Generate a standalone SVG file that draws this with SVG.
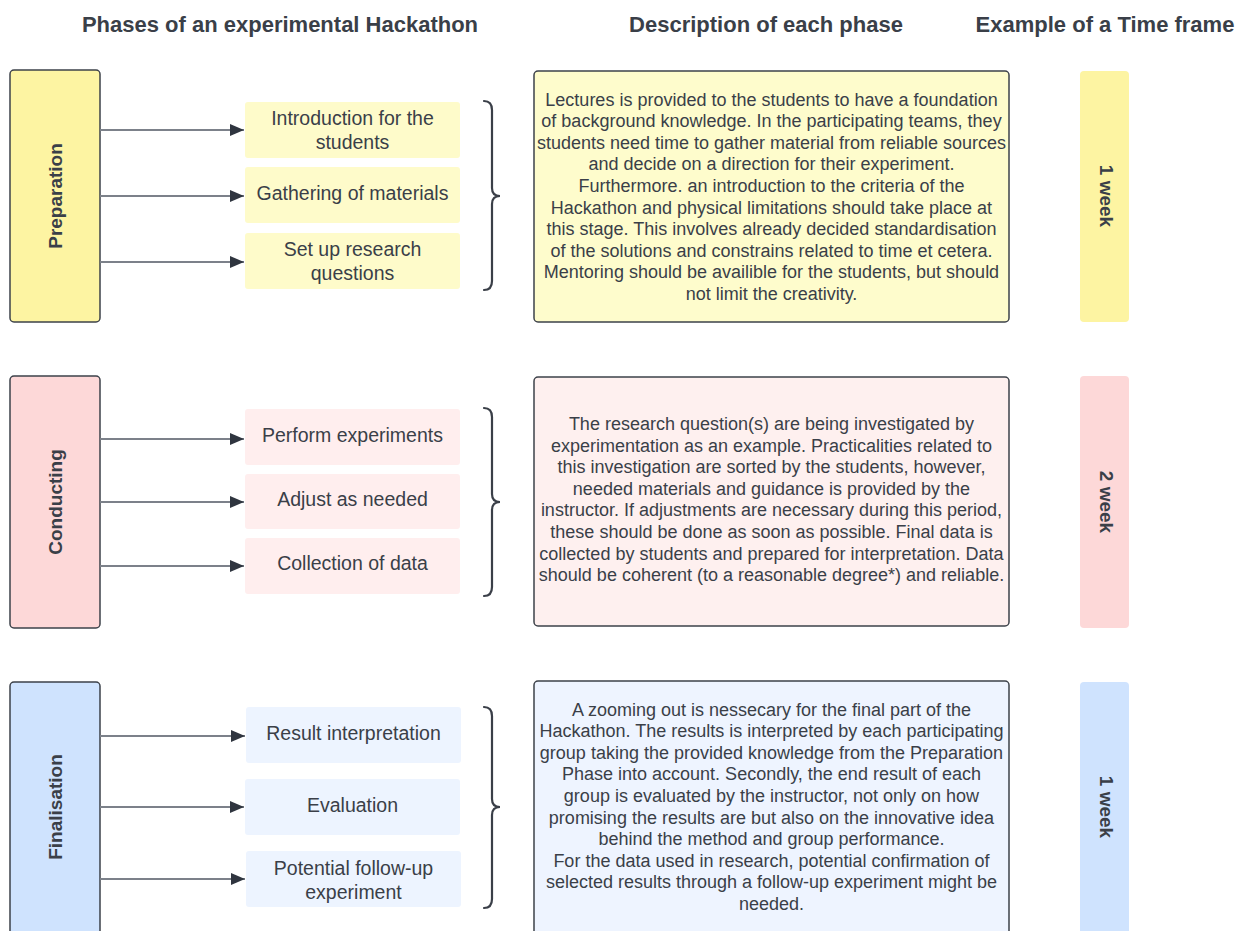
<svg xmlns="http://www.w3.org/2000/svg" width="1235" height="931" viewBox="0 0 1235 931">
<defs>
<style>
text{font-family:"Liberation Sans",Arial,sans-serif;fill:#3a3f48}
.hdr{font-size:22px;font-weight:bold}
.ph{font-size:19px;font-weight:bold}
.tf{font-size:19px;font-weight:bold}
.sub{font-size:19.5px}
.desc{font-size:18px}
.frame{stroke:#3d424a;stroke-width:1.5}
.conn{stroke:#7c818a;stroke-width:2;fill:none}
.brace{stroke:#3a3f48;stroke-width:2.2;fill:none;stroke-linecap:round}
.y1{fill:#fdf4a2}.y2{fill:#fefbca}.y3{fill:#fefccc}
.p1{fill:#fdd8d8}.p2{fill:#ffeeee}.p3{fill:#fef0ef}
.b1{fill:#cfe3fe}.b2{fill:#edf4ff}.b3{fill:#eef4ff}
</style>
<marker id="ah" viewBox="0 0 14 12" refX="14" refY="6" markerWidth="14" markerHeight="12" markerUnits="userSpaceOnUse" orient="auto">
<path d="M0,0 L14,6 L0,12 Z" fill="#2f353f"/>
</marker>
</defs>
<rect width="1235" height="931" fill="#ffffff"/>

<g id="headers" text-anchor="middle">
<text class="hdr" x="280" y="32">Phases of an experimental Hackathon</text>
<text class="hdr" x="766" y="32">Description of each phase</text>
<text class="hdr" x="1105" y="32">Example of a Time frame</text>
</g>

<!-- Preparation -->
<g id="preparation">
<rect class="frame y1" x="10" y="70" width="90" height="252" rx="4"/>
<text class="ph" transform="translate(55,196) rotate(-90)" text-anchor="middle" dominant-baseline="central">Preparation</text>
</g>
<g id="prep-intro"><rect class="y2" x="245" y="102" width="215" height="56" rx="3"/>
<text class="sub" x="352.5" y="125" text-anchor="middle">Introduction for the</text>
<text class="sub" x="352.5" y="148.5" text-anchor="middle">students</text></g>
<g id="prep-gather"><rect class="y2" x="245" y="167" width="215" height="56" rx="3"/>
<text class="sub" x="352.5" y="200" text-anchor="middle">Gathering of materials</text></g>
<g id="prep-questions"><rect class="y2" x="245" y="233" width="215" height="56" rx="3"/>
<text class="sub" x="352.5" y="256" text-anchor="middle">Set up research</text>
<text class="sub" x="352.5" y="279.5" text-anchor="middle">questions</text></g>
<g id="prep-desc">
<rect class="frame y3" x="534" y="71" width="475" height="251" rx="4"/>
<g class="desc" text-anchor="middle">
<text class="desc" x="771.5" y="105.5">Lectures is provided to the students to have a foundation</text>
<text class="desc" x="771.5" y="127.1">of background knowledge. In the participating teams, they</text>
<text class="desc" x="771.5" y="148.7">students need time to gather material from reliable sources</text>
<text class="desc" x="771.5" y="170.3">and decide on a direction for their experiment.</text>
<text class="desc" x="771.5" y="191.9">Furthermore. an introduction to the criteria of the</text>
<text class="desc" x="771.5" y="213.5">Hackathon and physical limitations should take place at</text>
<text class="desc" x="771.5" y="235.1">this stage. This involves already decided standardisation</text>
<text class="desc" x="771.5" y="256.7">of the solutions and constrains related to time et cetera.</text>
<text class="desc" x="771.5" y="278.3">Mentoring should be availible for the students, but should</text>
<text class="desc" x="771.5" y="299.9">not limit the creativity.</text>
</g>
</g>
<g id="prep-time">
<rect class="y1" x="1080" y="71" width="49" height="251" rx="4"/>
<text class="tf" transform="translate(1106,196) rotate(90)" text-anchor="middle" dominant-baseline="central">1 week</text>
</g>

<!-- Conducting -->
<g id="conducting">
<rect class="frame p1" x="10" y="376" width="90" height="252" rx="4"/>
<text class="ph" transform="translate(55,502) rotate(-90)" text-anchor="middle" dominant-baseline="central">Conducting</text>
</g>
<g id="cond-perform"><rect class="p2" x="245" y="409" width="215" height="56" rx="3"/>
<text class="sub" x="352.5" y="442" text-anchor="middle">Perform experiments</text></g>
<g id="cond-adjust"><rect class="p2" x="245" y="474" width="215" height="55" rx="3"/>
<text class="sub" x="352.5" y="506" text-anchor="middle">Adjust as needed</text></g>
<g id="cond-collect"><rect class="p2" x="245" y="538" width="215" height="56" rx="3"/>
<text class="sub" x="352.5" y="570" text-anchor="middle">Collection of data</text></g>
<g id="cond-desc">
<rect class="frame p3" x="534" y="377" width="475" height="249" rx="4"/>
<g text-anchor="middle">
<text class="desc" x="771.5" y="430">The research question(s) are being investigated by</text>
<text class="desc" x="771.5" y="451.6">experimentation as an example. Practicalities related to</text>
<text class="desc" x="771.5" y="473.2">this investigation are sorted by the students, however,</text>
<text class="desc" x="771.5" y="494.8">needed materials and guidance is provided by the</text>
<text class="desc" x="771.5" y="516.4">instructor. If adjustments are necessary during this period,</text>
<text class="desc" x="771.5" y="538">these should be done as soon as possible. Final data is</text>
<text class="desc" x="771.5" y="559.6">collected by students and prepared for interpretation. Data</text>
<text class="desc" x="771.5" y="581.2">should be coherent (to a reasonable degree*) and reliable.</text>
</g>
</g>
<g id="cond-time">
<rect class="p1" x="1080" y="376" width="49" height="252" rx="4"/>
<text class="tf" transform="translate(1106,502) rotate(90)" text-anchor="middle" dominant-baseline="central">2 week</text>
</g>

<!-- Finalisation -->
<g id="finalisation">
<rect class="frame b1" x="10" y="682" width="90" height="260" rx="4"/>
<text class="ph" transform="translate(55,807) rotate(-90)" text-anchor="middle" dominant-baseline="central">Finalisation</text>
</g>
<g id="fin-result"><rect class="b2" x="246" y="707" width="215" height="56" rx="3"/>
<text class="sub" x="353.5" y="740" text-anchor="middle">Result interpretation</text></g>
<g id="fin-eval"><rect class="b2" x="245" y="779" width="215" height="56" rx="3"/>
<text class="sub" x="352.5" y="812" text-anchor="middle">Evaluation</text></g>
<g id="fin-followup"><rect class="b2" x="246" y="851" width="215" height="56" rx="3"/>
<text class="sub" x="353.5" y="875" text-anchor="middle">Potential follow-up</text>
<text class="sub" x="353.5" y="898.5" text-anchor="middle">experiment</text></g>
<g id="fin-desc">
<rect class="frame b3" x="534" y="681" width="475" height="260" rx="4"/>
<g text-anchor="middle">
<text class="desc" x="771.5" y="715.5">A zooming out is nessecary for the final part of the</text>
<text class="desc" x="771.5" y="737.1">Hackathon. The results is interpreted by each participating</text>
<text class="desc" x="771.5" y="758.7">group taking the provided knowledge from the Preparation</text>
<text class="desc" x="771.5" y="780.3">Phase into account. Secondly, the end result of each</text>
<text class="desc" x="771.5" y="801.9">group is evaluated by the instructor, not only on how</text>
<text class="desc" x="771.5" y="823.5">promising the results are but also on the innovative idea</text>
<text class="desc" x="771.5" y="845.1">behind the method and group performance.</text>
<text class="desc" x="771.5" y="866.7">For the data used in research, potential confirmation of</text>
<text class="desc" x="771.5" y="888.3">selected results through a follow-up experiment might be</text>
<text class="desc" x="771.5" y="909.9">needed.</text>
</g>
</g>
<g id="fin-time">
<rect class="b1" x="1080" y="682" width="49" height="260" rx="4"/>
<text class="tf" transform="translate(1106,807) rotate(90)" text-anchor="middle" dominant-baseline="central">1 week</text>
</g>

<g id="connectors">
<line class="conn" x1="100" y1="130" x2="244" y2="130" marker-end="url(#ah)"/>
<line class="conn" x1="100" y1="196" x2="244" y2="196" marker-end="url(#ah)"/>
<line class="conn" x1="100" y1="262" x2="244" y2="262" marker-end="url(#ah)"/>
<line class="conn" x1="100" y1="439" x2="244" y2="439" marker-end="url(#ah)"/>
<line class="conn" x1="100" y1="502" x2="244" y2="502" marker-end="url(#ah)"/>
<line class="conn" x1="100" y1="566" x2="244" y2="566" marker-end="url(#ah)"/>
<line class="conn" x1="100" y1="736" x2="245" y2="736" marker-end="url(#ah)"/>
<line class="conn" x1="100" y1="807" x2="244" y2="807" marker-end="url(#ah)"/>
<line class="conn" x1="100" y1="879" x2="245" y2="879" marker-end="url(#ah)"/>
</g>

<g id="braces">
<path class="brace" d="M484,101 Q492,101 492,110 L492,188 Q492,196 500,196 Q492,196 492,204 L492,281 Q492,290 484,290"/>
<path class="brace" d="M484,408 Q492,408 492,417 L492,494 Q492,502 500,502 Q492,502 492,510 L492,587 Q492,596 484,596"/>
<path class="brace" d="M484,707 Q492,707 492,716 L492,799 Q492,807 500,807 Q492,807 492,815 L492,899 Q492,908 484,908"/>
</g>
</svg>
